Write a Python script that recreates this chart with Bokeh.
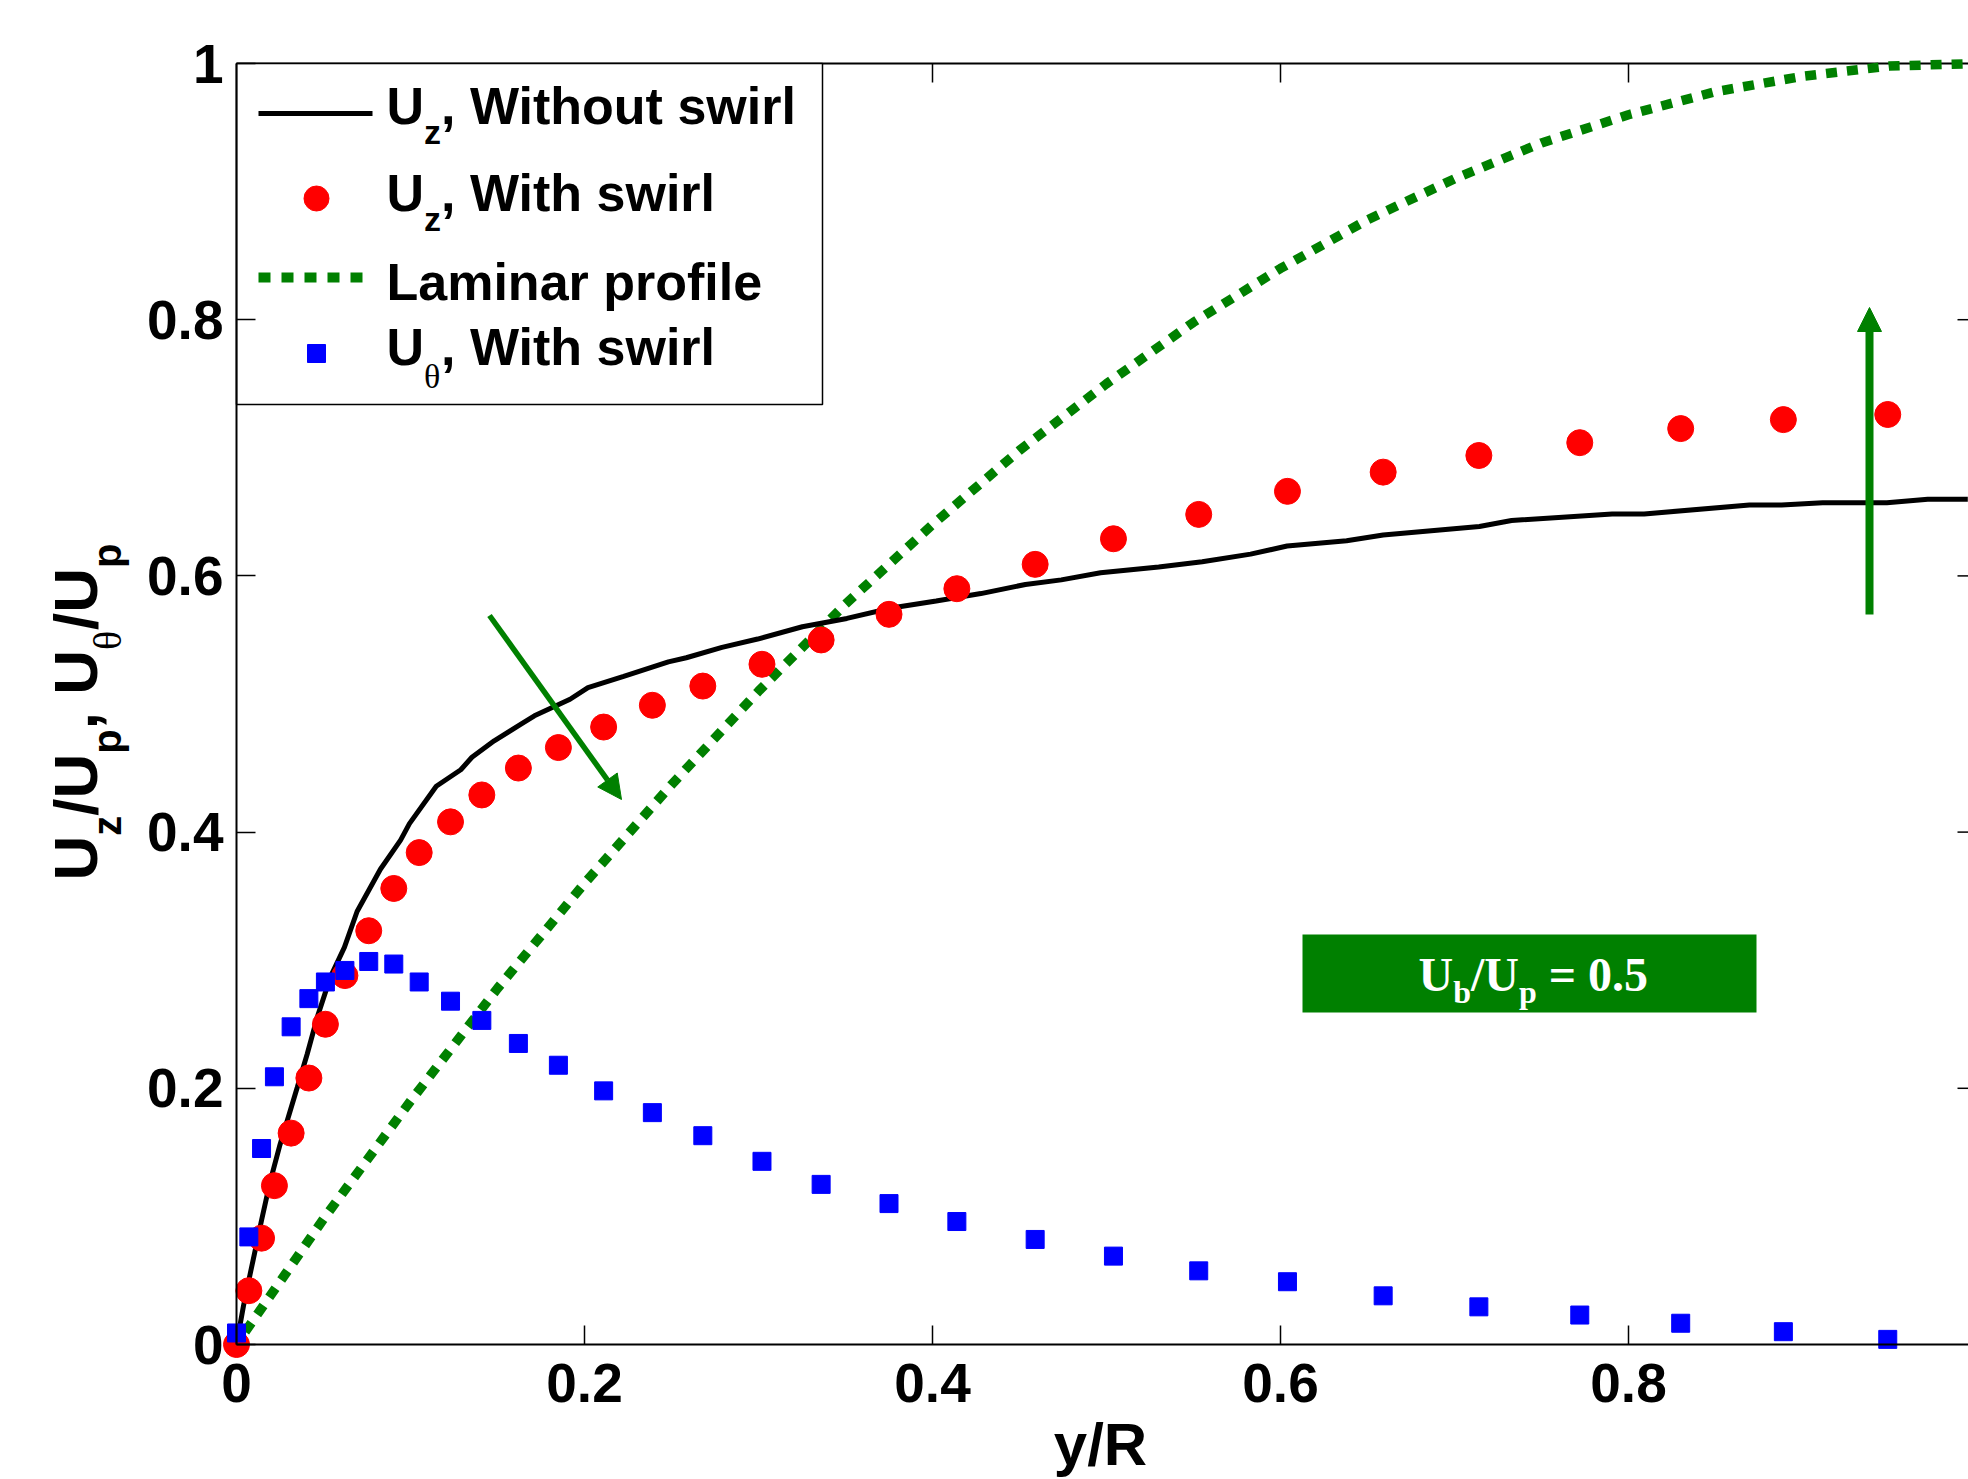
import math
from bokeh.plotting import figure
from bokeh.models import Range1d, FixedTicker, Label, Arrow, NormalHead
from bokeh.embed import file_html
from bokeh.resources import INLINE

# ---------------- data ----------------
# measurement stations shared by the swirl data sets
x_swirl = [0.0, 0.0071, 0.0144, 0.0218, 0.0314, 0.0416, 0.0511, 0.0623, 0.0760, 0.0904,
           0.105, 0.123, 0.141, 0.162, 0.185, 0.211, 0.239, 0.268, 0.302, 0.336,
           0.375, 0.414, 0.459, 0.504, 0.553, 0.604, 0.659, 0.714, 0.772, 0.830,
           0.889, 0.949]
uz_swirl = [0.0, 0.042, 0.083, 0.124, 0.165, 0.208, 0.250, 0.288, 0.323, 0.356,
            0.384, 0.408, 0.429, 0.450, 0.466, 0.482, 0.499, 0.514, 0.531, 0.550,
            0.570, 0.590, 0.609, 0.629, 0.648, 0.666, 0.681, 0.694, 0.704, 0.715,
            0.722, 0.726]
ut_swirl = [0.009, 0.084, 0.153, 0.209, 0.248, 0.270, 0.283, 0.292, 0.299, 0.297,
            0.283, 0.268, 0.253, 0.235, 0.218, 0.198, 0.181, 0.163, 0.143, 0.125,
            0.110, 0.096, 0.082, 0.069, 0.0575, 0.049, 0.038, 0.0294, 0.023, 0.0166,
            0.010, 0.004]

x_noswirl = [0.0, 0.004, 0.008, 0.0144, 0.0193, 0.025, 0.0349, 0.0406, 0.0464, 0.054,
             0.062, 0.0693, 0.0827, 0.0943, 0.0994, 0.1148, 0.1289, 0.1353, 0.1481, 0.1635,
             0.1712, 0.1917, 0.2020, 0.2225, 0.2482, 0.2585, 0.2790, 0.2995, 0.3252, 0.3508,
             0.3764, 0.4021, 0.4278, 0.4534, 0.4740, 0.4966, 0.530, 0.555, 0.5828, 0.6038,
             0.638, 0.659, 0.7143, 0.7328, 0.7906, 0.809, 0.8695, 0.888, 0.9116, 0.9485,
             0.972, 0.995]
uz_noswirl = [0.0, 0.030, 0.056, 0.097, 0.127, 0.156, 0.2006, 0.2266, 0.2554, 0.287,
              0.310, 0.338, 0.371, 0.3937, 0.4066, 0.4358, 0.4487, 0.4584, 0.4713, 0.4843,
              0.4908, 0.5037, 0.5128, 0.5215, 0.5329, 0.5361, 0.5442, 0.5507, 0.5603, 0.5668,
              0.5749, 0.5804, 0.5862, 0.5933, 0.5969, 0.6024, 0.607, 0.611, 0.617, 0.6233,
              0.6275, 0.632, 0.6386, 0.6432, 0.6484, 0.6484, 0.6553, 0.6553, 0.6571, 0.6571,
              0.6599, 0.6599]

x_laminar = [0.005, 0.025, 0.05, 0.075, 0.1, 0.125, 0.15, 0.175, 0.2, 0.25, 0.3, 0.35,
             0.4, 0.45, 0.5, 0.55, 0.6, 0.65, 0.7, 0.75, 0.8, 0.85, 0.9, 0.95, 1.0]
u_laminar = [0.010, 0.049, 0.098, 0.144, 0.190, 0.234, 0.278, 0.319, 0.360, 0.437, 0.510,
             0.578, 0.640, 0.698, 0.750, 0.798, 0.840, 0.878, 0.910, 0.938, 0.960, 0.978,
             0.990, 0.998, 1.000]

x_ticks = [0, 0.2, 0.4, 0.6, 0.8, 1.0]
y_ticks = [0, 0.2, 0.4, 0.6, 0.8, 1.0]

# ---------------- layout helpers ----------------
W, H = 1968, 1479
FR_L, FR_T, FR_W, FR_H = 236.0, 63.0, 1740.0, 1281.0  # page px of the axes box & scale


def X(px):
    return (px - FR_L) / FR_W


def Y(py):
    return (FR_T + FR_H - py) / FR_H


SANS = "Liberation Sans"
SERIF = "Liberation Serif"
SANS_B = {' ': 278, ',': 278, '/': 278, '.': 278, 'U': 722, 'W': 944, 'L': 611, 'R': 722,
          'a': 556, 'b': 611, 'e': 556, 'f': 333, 'h': 611, 'i': 278, 'l': 278, 'm': 889,
          'n': 611, 'o': 611, 'p': 611, 'r': 389, 's': 556, 't': 333, 'u': 611, 'w': 778,
          'y': 556, 'z': 500}
SERIF_B = {'U': 722, 'b': 556, '/': 278, 'p': 556, ' ': 250, '=': 570, '0': 500, '.': 250,
           '5': 500}
SERIF_R = {'θ': 500}
MID = {SANS: 0.3465, SERIF: 0.3375}  # baseline -> middle of the font box, in em


def tw(s, size, table):
    return sum(table.get(c, 556) for c in s) * size / 1000.0


# the drawing frame covers the whole canvas; the axes are placed at fixed data locations
p = figure(width=W, height=H,
           x_range=Range1d(X(0), X(W)), y_range=Range1d(Y(H), Y(0)),
           output_backend="svg", toolbar_location=None,
           min_border_left=0, min_border_right=0, min_border_top=0, min_border_bottom=0)
p.grid.visible = False
p.outline_line_color = None
p.background_fill_color = "white"
p.border_fill_color = "white"


def style_axis(ax, ticks, standoff):
    ax.ticker = FixedTicker(ticks=ticks)
    ax.fixed_location = 0
    ax.bounds = (0, 1)
    ax.axis_line_color = "black"
    ax.axis_line_width = 2
    ax.major_tick_line_color = "black"
    ax.major_tick_line_width = 1.5
    ax.major_tick_in = 19
    ax.major_tick_out = 0
    ax.minor_tick_line_color = None
    ax.major_label_text_font = SANS
    ax.major_label_text_font_style = "bold"
    ax.major_label_text_color = "black"
    ax.major_label_text_font_size = "55px"
    ax.major_label_standoff = standoff


style_axis(p.xaxis[0], x_ticks, 19)
style_axis(p.yaxis[0], y_ticks, 13)

# top border with inward ticks, and inward ticks of the right border (just off picture)
p.segment(x0=[0], y0=[1], x1=[1], y1=[1], line_color="black", line_width=2)
tx = x_ticks[1:5]
p.segment(x0=tx, y0=[1] * 4, x1=tx, y1=[1 - 19.0 / FR_H] * 4, line_color="black",
          line_width=1.5)
ry = y_ticks[1:5]
p.segment(x0=[1.0 - 19.0 / FR_W] * 4, y0=ry, x1=[1.0] * 4, y1=ry, line_color="black",
          line_width=1.5)

GREEN = "#008000"

# legend box
p.quad(left=[0], right=[X(822)], bottom=[Y(404)], top=[1], fill_color="white",
       line_color="black", line_width=1.5)

# ---------------- data series ----------------
p.line(x_laminar, u_laminar, line_color=GREEN, line_width=9.5, line_dash="11 10")
p.line(x_noswirl, uz_noswirl, line_color="black", line_width=5)
p.scatter(x_swirl, uz_swirl, marker="circle", size=26, fill_color="#FF0000",
          line_color="#FF0000")
p.scatter(x_swirl, ut_swirl, marker="square", size=18, fill_color="#0000FF",
          line_color="#0000FF")

# legend samples
p.line([X(258), X(372)], [Y(113), Y(113)], line_color="black", line_width=5)
p.scatter([X(316)], [Y(198)], marker="circle", size=25, fill_color="#FF0000",
          line_color="#FF0000")
p.line([X(258), X(362)], [Y(277), Y(277)], line_color=GREEN, line_width=10, line_dash="12 11")
p.scatter([X(316)], [Y(353)], marker="square", size=18, fill_color="#0000FF",
          line_color="#0000FF")

# annotation box
p.quad(left=[X(1302)], right=[X(1756)], bottom=[Y(1012)], top=[Y(934)],
       fill_color=GREEN, line_color=None)


def rich(parts, x0, y0, color="black", vertical=False):
    """Lay out text pieces (with sub-scripts) one after another; y0 is the baseline."""
    off = 0.0
    for text, size, dy, font, st, table in parts:
        lead = len(text) - len(text.lstrip(" "))
        off += tw(" " * lead, size, table)
        text = text.lstrip(" ")
        up = MID[font] * size
        if vertical:
            px, py, ang = x0 + dy - up, y0 - off, math.pi / 2
        else:
            px, py, ang = x0 + off, y0 + dy - up, 0.0
        p.add_layout(Label(x=X(px), y=Y(py), text=text, text_font=font, text_font_style=st,
                           text_font_size=f"{size}px", text_color=color,
                           text_baseline="middle", text_align="left", angle=ang))
        off += tw(text, size, table)


M, S = 52, 34
LX = 386
rich([("U", M, 0, SANS, "bold", SANS_B), ("z", S, 19, SANS, "bold", SANS_B),
      (", Without swirl", M, 0, SANS, "bold", SANS_B)], LX, 124)
rich([("U", M, 0, SANS, "bold", SANS_B), ("z", S, 19, SANS, "bold", SANS_B),
      (", With swirl", M, 0, SANS, "bold", SANS_B)], LX, 211)
rich([("Laminar profile", M, 0, SANS, "bold", SANS_B)], LX, 300)
rich([("U", M, 0, SANS, "bold", SANS_B), ("θ", S, 22, SERIF, "normal", SERIF_R),
      (", With swirl", M, 0, SANS, "bold", SANS_B)], LX, 365)

# y axis title
YM, YS = 62, 40
rich([("U", YM, 0, SANS, "bold", SANS_B), ("z", YS, 24, SANS, "bold", SANS_B),
      ("/U", YM, 0, SANS, "bold", SANS_B), ("p", YS, 24, SANS, "bold", SANS_B),
      (", U", YM, 0, SANS, "bold", SANS_B), ("θ", YS, 24, SERIF, "normal", SERIF_R),
      ("/U", YM, 0, SANS, "bold", SANS_B), ("p", YS, 24, SANS, "bold", SANS_B)],
     96, 880, vertical=True)

# x axis title
rich([("y/R", 60, 0, SANS, "bold", SANS_B)], 1100 - tw("y/R", 60, SANS_B) / 2, 1465)

# U_b/U_p = 0.5 box text
TM, TS = 48, 32
rich([("U", TM, 0, SERIF, "bold", SERIF_B), ("b", TS, 12, SERIF, "bold", SERIF_B),
      ("/U", TM, 0, SERIF, "bold", SERIF_B), ("p", TS, 12, SERIF, "bold", SERIF_B),
      (" = 0.5", TM, 0, SERIF, "bold", SERIF_B)], 1418, 990, color="white")

# arrows
p.add_layout(Arrow(end=NormalHead(size=24, fill_color=GREEN, line_color=GREEN),
                   x_start=X(489), y_start=Y(615), x_end=X(621), y_end=Y(799),
                   line_color=GREEN, line_width=5.5))
p.add_layout(Arrow(end=NormalHead(size=24, fill_color=GREEN, line_color=GREEN),
                   x_start=X(1869), y_start=Y(614), x_end=X(1869), y_end=Y(307),
                   line_color=GREEN, line_width=8))

open("out.html", "w", encoding="utf-8").write(file_html(p, INLINE))
